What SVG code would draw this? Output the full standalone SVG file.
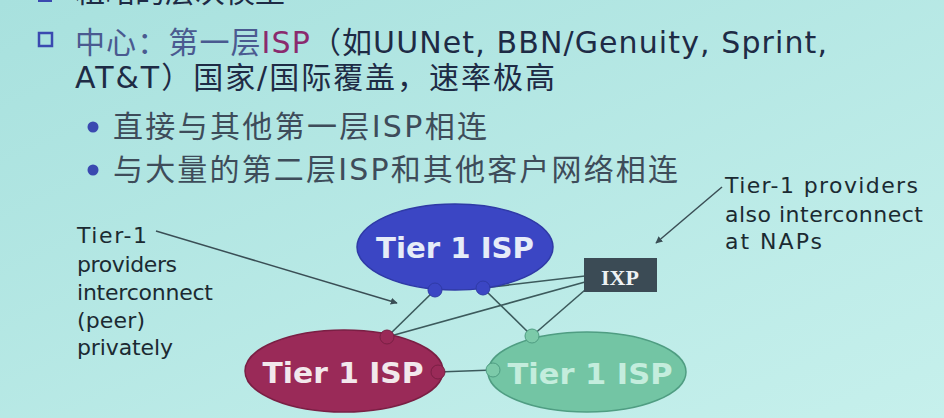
<svg xmlns="http://www.w3.org/2000/svg" width="944" height="418" viewBox="0 0 944 418">
<defs>
<linearGradient id="bg" x1="0" y1="0" x2="1" y2="1">
<stop offset="0" stop-color="#a8e1de"/>
<stop offset="1" stop-color="#c6f0ec"/>
</linearGradient>
<marker id="arr" viewBox="0 0 10 10" refX="9" refY="5" markerWidth="7" markerHeight="7" orient="auto" markerUnits="userSpaceOnUse">
<path d="M0,0 L10,5 L0,10 z" fill="#3a4e55"/>
</marker>
<style>
.cjk{font-family:"DejaVu Sans","Noto Sans CJK SC",sans-serif;font-size:30px;}
.hd{fill:#1e2b45;}
.bl{fill:#3e4c5a;}
.note{font-family:"DejaVu Sans",sans-serif;font-size:22px;fill:#1b2a32;}
.lbl{font-family:"DejaVu Sans",sans-serif;font-size:29px;font-weight:bold;text-anchor:middle;}
.link{stroke:#3c5a5c;stroke-width:1.6;fill:none;}
.ann{stroke:#3a4e55;stroke-width:1.5;fill:none;}
</style>
</defs>
<rect width="944" height="418" fill="url(#bg)"/>

<g id="text-list">
<rect x="38" y="-12" width="14" height="14" fill="#3a49b0"/>
<text class="cjk hd" x="75" y="2">粗略的层次模型</text>
<rect x="39" y="33" width="13" height="13" fill="none" stroke="#3a49b0" stroke-width="2.5"/>
<text class="cjk" x="75" y="53" textLength="752" lengthAdjust="spacing"><tspan fill="#4a5a90">中心：第一层</tspan><tspan fill="#8a2a6e">ISP</tspan><tspan fill="#1e2b45">（如UUNet, BBN/Genuity, Sprint,</tspan></text>
<text class="cjk hd" x="75" y="88" textLength="480" lengthAdjust="spacing">AT&amp;T）国家/国际覆盖，速率极高</text>
<circle cx="93" cy="127" r="5.5" fill="#3a49b0"/>
<text class="cjk bl" x="113" y="137" textLength="374" lengthAdjust="spacing">直接与其他第一层ISP相连</text>
<circle cx="93" cy="170" r="5.5" fill="#3a49b0"/>
<text class="cjk bl" x="113" y="180" textLength="565" lengthAdjust="spacing">与大量的第二层ISP和其他客户网络相连</text>
</g>

<g id="note-left">
<text class="note" x="77" y="243" textLength="70" lengthAdjust="spacing">Tier-1</text>
<text class="note" x="77" y="272" textLength="100" lengthAdjust="spacing">providers</text>
<text class="note" x="77" y="300" textLength="136" lengthAdjust="spacing">interconnect</text>
<text class="note" x="77" y="328" textLength="68" lengthAdjust="spacing">(peer)</text>
<text class="note" x="77" y="355" textLength="96" lengthAdjust="spacing">privately</text>
</g>

<g id="note-right">
<text class="note" x="725" y="193" textLength="193" lengthAdjust="spacing">Tier-1 providers</text>
<text class="note" x="725" y="222" textLength="198" lengthAdjust="spacing">also interconnect</text>
<text class="note" x="725" y="249" textLength="97" lengthAdjust="spacing">at NAPs</text>
</g>

<g id="connectors">
<line class="ann" x1="156" y1="231" x2="397" y2="303" marker-end="url(#arr)"/>
<line class="ann" x1="722" y1="187" x2="656" y2="243" marker-end="url(#arr)"/>
<line class="link" x1="435" y1="290" x2="387" y2="337"/>
<line class="link" x1="483" y1="288" x2="532" y2="336"/>
<line class="link" x1="483" y1="288" x2="585" y2="276"/>
<line class="link" x1="387" y1="337" x2="585" y2="282"/>
<line class="link" x1="585" y1="290" x2="532" y2="336"/>
<line class="link" x1="438" y1="372" x2="493" y2="370"/>
</g>

<g id="isp-blue">
<ellipse cx="455" cy="247" rx="98" ry="43" fill="#3b46c4" stroke="#2f3aa6" stroke-width="1.5"/>
<text class="lbl" x="455" y="258" fill="#e6ecf8" textLength="158" lengthAdjust="spacingAndGlyphs">Tier 1 ISP</text>
<circle cx="435" cy="290" r="7" fill="#3b46c4" stroke="#2f3aa6"/>
<circle cx="483" cy="288" r="7" fill="#3b46c4" stroke="#2f3aa6"/>
</g>

<g id="isp-red">
<ellipse cx="344" cy="371" rx="99" ry="41" fill="#9a2a58" stroke="#7a1f44" stroke-width="1.5"/>
<text class="lbl" x="343" y="383" fill="#f2e8ec" textLength="161" lengthAdjust="spacingAndGlyphs">Tier 1 ISP</text>
<circle cx="387" cy="337" r="7" fill="#9a2a58" stroke="#7a1f44"/>
<circle cx="438" cy="372" r="7" fill="#9a2a58" stroke="#7a1f44"/>
</g>

<g id="isp-green">
<ellipse cx="587" cy="372" rx="99" ry="40" fill="#73c5a4" stroke="#4f9d82" stroke-width="1.5"/>
<text class="lbl" x="590" y="384" fill="#c4eddd" textLength="165" lengthAdjust="spacingAndGlyphs">Tier 1 ISP</text>
<circle cx="532" cy="336" r="7" fill="#7ccaa9" stroke="#4f9d82"/>
<circle cx="493" cy="370" r="7" fill="#7ccaa9" stroke="#4f9d82"/>
</g>

<g id="ixp">
<rect x="584" y="258" width="73" height="34" fill="#3b4b55"/>
<text x="620" y="285" text-anchor="middle" font-family="Liberation Serif, serif" font-weight="bold" font-size="22" fill="#eef2f4">IXP</text>
</g>
</svg>
